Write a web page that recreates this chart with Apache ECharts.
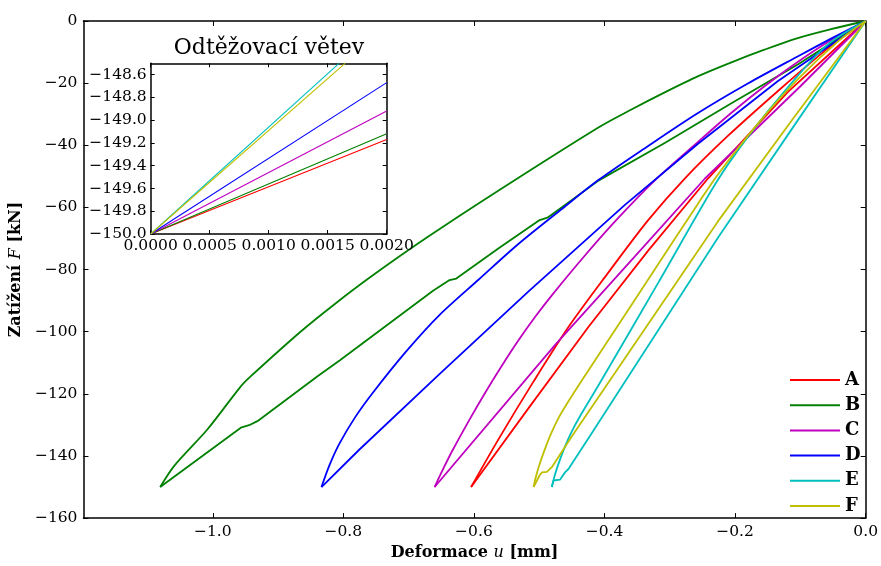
<!DOCTYPE html>
<html><head><meta charset="utf-8">
<script src="https://cdn.jsdelivr.net/npm/echarts@6/dist/echarts.min.js"></script>
<style>html,body{margin:0;padding:0;background:#fff}#c{width:881px;height:566px}</style>
</head><body><div id="c"></div>
<script>
const names = ['A','B','C','D','E','F'];
const colors = ['#ff0000','#008000','#bf00bf','#0000ff','#00bfbf','#bfbf00'];

// Main chart: outer branch (origin -> tip) and inner branch (tip -> origin), u [mm], F [kN]
const A_out_u = [0, -0.0584, -0.1347, -0.2111, -0.2771, -0.3331, -0.3942, -0.4552, -0.5086, -0.562, -0.6043];
const A_out_F = [0, -8.9, -22.6, -37.0, -50.7, -64.1, -81.0, -98.5, -116.0, -134.5, -150];
const A_in_u  = [-0.6043, -0.5163, -0.4247, -0.3331, -0.2416, -0.1195, 0];
const A_in_F  = [-150, -124.6, -98.5, -73.9, -50.7, -22.9, 0];

const B_out_u = [0, -0.0533, -0.104, -0.155, -0.2056, -0.2565, -0.307, -0.358, -0.4087, -0.561, -0.6727, -0.759, -0.8125, -0.866, -0.942, -0.957, -1.008, -1.0587, -1.0805];
const B_out_F = [0, -2.65, -5.51, -9.24, -13.3, -17.75, -22.9, -28.4, -34.2, -54.4, -69.8, -82.5, -91.0, -100.1, -114.4, -117.6, -131.4, -143.1, -150];
const B_in_u  = [-1.0805, -0.957, -0.9545, -0.9444, -0.9316, -0.84, -0.8047, -0.6626, -0.6373, -0.627, -0.561, -0.5004, -0.4874, -0.4087, -0.3071, -0.2056, -0.104, 0];
const B_in_F  = [-150, -130.9, -130.6, -130.1, -128.8, -114.4, -109.1, -86.8, -83.4, -82.9, -73.0, -64.2, -63.3, -51.3, -39.2, -26.5, -14.0, 0];

const C_out_u = [0, -0.0534, -0.1042, -0.155, -0.206, -0.2568, -0.3229, -0.3789, -0.4297, -0.4807, -0.5061, -0.5315, -0.557, -0.5823, -0.6078, -0.6333, -0.646, -0.6602];
const C_out_F = [0, -6.2, -13.2, -21.0, -29.6, -38.9, -51.3, -63.4, -75.4, -88.3, -95.2, -102.7, -110.9, -119.5, -128.7, -138.4, -143.7, -150];
const C_in_u  = [-0.6602, -0.4746, -0.36, -0.2461, -0.1, 0];
const C_in_F  = [-150, -104, -77.3, -50.7, -21, 0];

const D_out_u = [0, -0.0523, -0.1042, -0.1805, -0.2568, -0.3331, -0.4094, -0.4659, -0.5315, -0.5926, -0.6536, -0.7044, -0.7554, -0.7818, -0.8062, -0.8215, -0.8335];
const D_out_F = [0, -5.6, -11.4, -20.1, -29.6, -40.2, -51.2, -60.6, -71.7, -83.2, -94.8, -106.5, -119.8, -127.5, -136.1, -143.1, -150];
const D_in_u  = [-0.8335, -0.7757, -0.6536, -0.5163, -0.3687, -0.2568, -0.1348, 0];
const D_in_F  = [-150, -138.0, -113.8, -87.0, -59.2, -39.5, -19.4, 0];

const E_out_u = [0, -0.0584, -0.1195, -0.1805, -0.2289, -0.3178, -0.4094, -0.4369, -0.4506, -0.4598, -0.4674, -0.4735, -0.4781, -0.4807];
const E_out_F = [0, -7.6, -21.4, -37.3, -52.0, -84.3, -117.3, -127.0, -132.3, -136.6, -140.7, -144.4, -147.7, -150];
const E_in_u  = [-0.4807, -0.4781, -0.4755, -0.4679, -0.4654, -0.4602, -0.4552, -0.4221, -0.2263, -0.1119, 0];
const E_in_F  = [-150, -147.9, -147.6, -147.6, -146.8, -145.2, -144.2, -133.5, -69.8, -34.4, 0];

const F_out_u = [0, -0.0432, -0.1042, -0.1653, -0.2263, -0.2568, -0.3281, -0.4094, -0.4323, -0.4552, -0.4705, -0.4827, -0.4934, -0.501, -0.5056, -0.5086];
const F_out_F = [0, -6.7, -18.8, -33.1, -49.4, -58.8, -81.6, -107.6, -114.9, -122.4, -127.8, -133.2, -139.0, -143.7, -147.1, -150];
const F_in_u  = [-0.5086, -0.4995, -0.496, -0.4883, -0.4807, -0.4502, -0.2263, -0.1119, 0];
const F_in_F  = [-150, -146.3, -145.3, -145.1, -143.6, -133.7, -64.5, -31.6, 0];

// Inset "Odtěžovací větev": unloading branch start, two points per line
const inset_u = {A:[0,0.002], B:[0,0.002], C:[0,0.002], D:[0,0.002], E:[0,0.001596], F:[0,0.001647]};
const inset_F = {A:[-150,-149.17], B:[-150,-149.12], C:[-150,-148.92], D:[-150,-148.67], E:[-150,-148.5], F:[-150,-148.5]};

// Tick values
const mainXTicks = [-1.0, -0.8, -0.6, -0.4, -0.2, 0.0];
const insetXTicks = [0, 0.0005, 0.001, 0.0015, 0.002];
const insetYTicks = [-150, -149.8, -149.6, -149.4, -149.2, -149.0, -148.8, -148.6];

const outer = {A:[A_out_u,A_out_F], B:[B_out_u,B_out_F], C:[C_out_u,C_out_F], D:[D_out_u,D_out_F], E:[E_out_u,E_out_F], F:[F_out_u,F_out_F]};
const inner = {A:[A_in_u,A_in_F], B:[B_in_u,B_in_F], C:[C_in_u,C_in_F], D:[D_in_u,D_in_F], E:[E_in_u,E_in_F], F:[F_in_u,F_in_F]};

const pairs = (u,F) => u.map((x,i)=>[x,F[i]]);
const FONT = 'DejaVu Serif';
const minus = s => s.replace('-', '\u2212');
const black = {color:'#000', width:1.5};

const series = [];
names.forEach((n,i)=>{
  series.push({name:n, type:'line', xAxisIndex:0, yAxisIndex:0, data:pairs(outer[n][0],outer[n][1]), symbol:'none', smooth:0.3,
    lineStyle:{color:colors[i], width:1.8}, itemStyle:{color:colors[i]}, z:2+i});
  series.push({name:n, type:'line', xAxisIndex:0, yAxisIndex:0, data:pairs(inner[n][0],inner[n][1]), symbol:'none', smooth:false,
    lineStyle:{color:colors[i], width:1.8}, itemStyle:{color:colors[i]}, z:2+i});
});
names.forEach((n,i)=>{
  series.push({name:n, type:'line', xAxisIndex:2, yAxisIndex:2, data:pairs(inset_u[n],inset_F[n]), symbol:'none', clip:true,
    lineStyle:{color:colors[i], width:1.1}, itemStyle:{color:colors[i]}, z:20+i});
});

const lbl = {color:'#000', fontFamily:FONT, fontSize:15.5};
const richName = {
  b:{fontFamily:FONT, fontWeight:'bold', fontSize:16, color:'#000'},
  i:{fontFamily:FONT, fontStyle:'italic', fontSize:16, color:'#000'}
};

const option = {
  animation:false,
  backgroundColor:'#fff',
  grid:[
    {left:83.3, top:21, width:785, height:502, show:false},
    {left:150.7, top:63.3, width:236, height:170.7, show:true, backgroundColor:'#fff', borderWidth:0, z:10}
  ],
  legend:{
    data:names, orient:'vertical', left:785, top:365, icon:'rect', itemWidth:50, itemHeight:2, itemGap:5.2,
    selectedMode:false, textStyle:{fontFamily:FONT, fontWeight:'bold', fontSize:18, color:'#000', lineHeight:20}
  },
  xAxis:[
    {gridIndex:0, type:'value', min:-1.198, max:0, position:'bottom',
     axisLine:{show:true, onZero:false, lineStyle:black},
     axisTick:{show:true, inside:true, length:5, customValues:mainXTicks, lineStyle:{color:'#000', width:1}},
     axisLabel:Object.assign({customValues:mainXTicks, margin:6, formatter:v=>minus(v.toFixed(1))}, lbl),
     splitLine:{show:false},
     name:'{b|Deformace }{i|u}{b| [mm]}', nameLocation:'middle', nameGap:22, nameTextStyle:{rich:richName}},
    {gridIndex:0, type:'value', min:-1.198, max:0, position:'top',
     axisLine:{show:true, onZero:false, lineStyle:black},
     axisTick:{show:true, inside:true, length:5, customValues:mainXTicks, lineStyle:{color:'#000', width:1}},
     axisLabel:{show:false}, splitLine:{show:false}},
    {gridIndex:1, type:'value', min:0, max:0.002, position:'bottom', z:12,
     axisLine:{show:true, onZero:false, lineStyle:black},
     axisTick:{show:true, inside:true, length:4, customValues:insetXTicks, lineStyle:{color:'#000', width:1}},
     axisLabel:Object.assign({customValues:insetXTicks, margin:4, formatter:v=>v.toFixed(4)}, lbl),
     splitLine:{show:false}},
    {gridIndex:1, type:'value', min:0, max:0.002, position:'top', z:12,
     axisLine:{show:true, onZero:false, lineStyle:black},
     axisTick:{show:true, inside:true, length:4, customValues:insetXTicks, lineStyle:{color:'#000', width:1}},
     axisLabel:{show:false}, splitLine:{show:false}}
  ],
  yAxis:[
    {gridIndex:0, type:'value', min:-160, max:0, interval:20, position:'left',
     axisLine:{show:true, onZero:false, lineStyle:black},
     axisTick:{show:true, inside:true, length:5, lineStyle:{color:'#000', width:1}},
     axisLabel:Object.assign({margin:6, formatter:v=>v===0?'0':minus(String(v))}, lbl),
     splitLine:{show:false},
     name:'{b|Zatížení }{i|F}{b| [kN]}', nameLocation:'middle', nameGap:44, nameTextStyle:{rich:richName}},
    {gridIndex:0, type:'value', min:-160, max:0, interval:20, position:'right',
     axisLine:{show:true, onZero:false, lineStyle:black},
     axisTick:{show:true, inside:true, length:5, lineStyle:{color:'#000', width:1}},
     axisLabel:{show:false}, splitLine:{show:false}},
    {gridIndex:1, type:'value', min:-150, max:-148.5, position:'left', z:12,
     axisLine:{show:true, onZero:false, lineStyle:black},
     axisTick:{show:true, inside:true, length:4, customValues:insetYTicks, lineStyle:{color:'#000', width:1}},
     axisLabel:Object.assign({customValues:insetYTicks, margin:4, formatter:v=>minus(v.toFixed(1))}, lbl),
     splitLine:{show:false}},
    {gridIndex:1, type:'value', min:-150, max:-148.5, position:'right', z:12,
     axisLine:{show:true, onZero:false, lineStyle:black},
     axisTick:{show:true, inside:true, length:4, customValues:insetYTicks, lineStyle:{color:'#000', width:1}},
     axisLabel:{show:false}, splitLine:{show:false}}
  ],
  graphic:[
    {type:'text', x:269, y:48, z:100, style:{text:'Odtěžovací větev', fontFamily:FONT, fontSize:22, fill:'#000', align:'center', verticalAlign:'middle'}}
  ],
  series:series
};
const chart = echarts.init(document.getElementById('c'), null, {renderer:'canvas'});
chart.setOption(option);
</script></body></html>
